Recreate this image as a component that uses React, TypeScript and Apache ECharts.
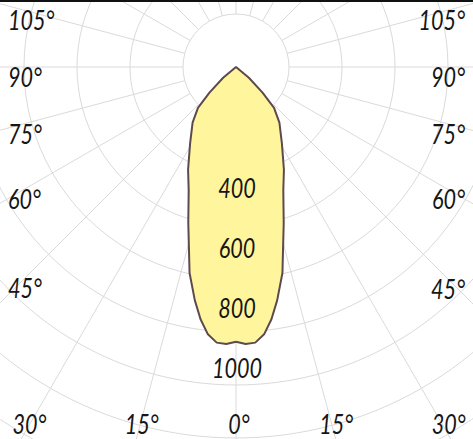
import { useEffect, useRef } from "react";
import * as echarts from "echarts";

// beam shape: angle from nadir (deg) -> intensity (cd)
const beamAngles = [0, 2, 4, 6, 8, 10, 12.7, 17, 21, 25, 31, 38, 43, 46, 50, 58];
const beamIntensity = [916, 924, 921, 896, 849, 790, 704, 544, 440, 378, 297, 235, 186, 123, 56, 0];

// tick labels
const intensityTicks = [400, 600, 800, 1000];
const angleTicks = [0, 15, 30, 45, 60, 75, 90, 105];

const GRID = "#dadada";
const INK = "#161616";
const FONT = "Lato, 'Open Sans', 'DejaVu Sans', sans-serif";
const FRAME = { left: 25, right: 448, bottom: 430 };
const NARROW = 0.8; // the original face is a condensed one

// left half goes 0 -> up, right half comes back down (360 - a)
const beamData = [
  ...beamAngles.map((a, i) => [beamIntensity[i], a]),
  ...beamAngles
    .map((a, i) => [beamIntensity[i], 360 - a])
    .reverse(),
];

// [radius, axis angle, shown degree, side]
const angleLabelData = angleTicks.flatMap((a) =>
  a === 0 ? [[1, 0, 0, 0]] : [[1, a, a, -1], [1, 360 - a, a, 1]]
);

const labelText = {
  fontSize: 27,
  fontStyle: "italic",
  fontWeight: 400,
  fontFamily: FONT,
  fill: INK,
};

const textEl = (x: number, y: number, text: string, align: string, vAlign: string) => ({
  type: "text",
  x,
  y,
  scaleX: NARROW,
  style: {
    ...labelText,
    text,
    align,
    textAlign: align,
    verticalAlign: vAlign,
    textVerticalAlign: vAlign,
  },
});

const option: echarts.EChartsOption = {
  animation: false,
  backgroundColor: "#ffffff",
  graphic: [
    {
      type: "rect",
      shape: { x: 0, y: 0, width: 473, height: 2 },
      style: { fill: "#111111" },
      z: 100,
    },
  ],
  polar: [
    { center: [236, 67], radius: [53, 477] },
    { center: [236, 67], radius: [0, 360] },
  ],
  angleAxis: [
    {
      polarIndex: 0,
      type: "value",
      min: 0,
      max: 360,
      interval: 15,
      startAngle: 270,
      clockwise: true,
      axisLine: { show: false },
      axisTick: { show: false },
      axisLabel: { show: false },
      splitLine: { show: true, lineStyle: { color: GRID, width: 1 } },
    },
    {
      polarIndex: 1,
      type: "value",
      min: 0,
      max: 360,
      startAngle: 270,
      clockwise: true,
      show: false,
    },
  ],
  radiusAxis: [
    {
      polarIndex: 0,
      type: "value",
      min: 1,
      max: 9,
      interval: 1,
      axisLine: { show: false },
      axisTick: { show: false },
      axisLabel: { show: false },
      splitLine: { show: true, lineStyle: { color: GRID, width: 1 } },
    },
    {
      polarIndex: 1,
      type: "value",
      min: 0,
      max: 1200,
      interval: 200,
      show: false,
    },
  ],
  series: [
    {
      type: "line",
      coordinateSystem: "polar",
      polarIndex: 1,
      data: beamData,
      symbol: "none",
      smooth: false,
      clip: false,
      z: 2,
      lineStyle: { color: "#5d4a4f", width: 2 },
      areaStyle: { color: "#fff59d", opacity: 1 },
    },
    {
      // intensity labels along the 0° direction
      type: "custom",
      coordinateSystem: "polar",
      polarIndex: 1,
      silent: true,
      clip: false,
      z: 6,
      data: intensityTicks.map((v) => [v, 0]),
      renderItem: (_params: any, api: any) => {
        const p = api.coord([api.value(0), 0]);
        return textEl(p[0] + 1, p[1] + 1, String(api.value(0)), "center", "middle");
      },
    },
    {
      // angle labels where the spokes leave the frame
      type: "custom",
      coordinateSystem: "polar",
      polarIndex: 0,
      silent: true,
      clip: false,
      z: 5,
      data: angleLabelData,
      renderItem: (_params: any, api: any) => {
        const a = api.value(1) as number;
        const deg = api.value(2) as number;
        const side = api.value(3) as number;
        const p0 = api.coord([1, a]);
        const p1 = api.coord([9, a]);
        const dx = p1[0] - p0[0];
        const dy = p1[1] - p0[1];
        const tB = dy > 0.001 ? (FRAME.bottom - p0[1]) / dy : Infinity;
        const edgeX = dx < 0 ? FRAME.left : FRAME.right;
        const tS = Math.abs(dx) > 0.001 ? (edgeX - p0[0]) / dx : Infinity;
        const text = `${deg}°`;
        if (tB < tS) {
          const x = p0[0] + tB * dx;
          return textEl(x + 3, FRAME.bottom + 7, text, "center", "bottom");
        }
        const y = p0[1] + tS * dy;
        return textEl(side < 0 ? 8 : 465, y - 4, text, side < 0 ? "left" : "right", "top");
      },
    },
  ],
};

export default function App() {
  const chartRef = useRef<HTMLDivElement>(null);

  useEffect(() => {
    if (!chartRef.current) return;
    document.body.style.margin = "0";
    const chart = echarts.init(chartRef.current, null, { renderer: "svg" });
    chart.setOption(option);
    return () => {
      chart.dispose();
    };
  }, []);

  return <div ref={chartRef} style={{ width: 473, height: 439 }} />;
}
